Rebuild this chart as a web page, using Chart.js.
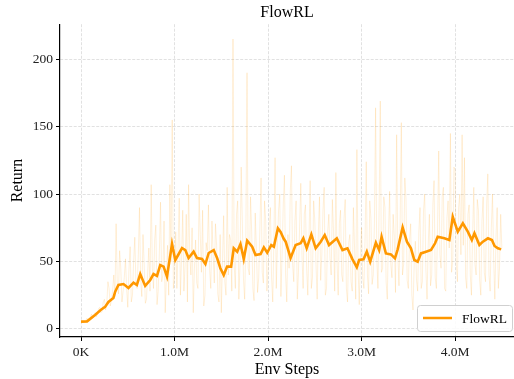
<!DOCTYPE html>
<html lang="en">
<head>
<meta charset="UTF-8">
<title>FlowRL</title>
<script src="https://cdn.jsdelivr.net/npm/chart.js"></script>
<style>
    html, body {
        margin: 0;
        padding: 0;
        background: #fff;
        overflow: hidden;
    }
    #chartContainer {
        width: 514px;
        height: 379px;
    }
</style>
</head>
<body>
<div id="chartContainer">
    <canvas id="chartCanvas" width="514" height="379"></canvas>
</div>
<script>
    // x values are in millions of env steps
    const xTicks = [0, 1, 2, 3, 4];
    const yTicks = [0, 50, 100, 150, 200];

    // raw episode returns, logged every 12.5K steps
    const rawInterval = 0.0125;
    const rawReturn = [
        5, 6, 5, 5, 6, 8, 7, 6, 9, 11, 8, 10, 12, 9, 11, 15, 16, 12, 13, 20,
        22, 14, 18, 35, 30, 17, 21, 28, 40, 24, 78, 33, 26, 58, 45, 20, 28, 38, 52, 30,
        16, 44, 61, 20, 25, 50, 68, 32, 30, 55, 90, 36, 24, 70, 48, 19, 22, 42, 60, 28,
        107, 45, 30, 66, 77, 18, 28, 56, 94, 35, 40, 80, 12, 38, 62, 25, 107, 50, 155, 30,
        38, 72, 30, 60, 97, 25, 52, 88, 28, 47, 85, 20, 107, 55, 40, 75, 12, 45, 66, 34,
        30, 100, 70, 42, 88, 17, 25, 64, 58, 92, 44, 30, 80, 55, 34, 78, 62, 26, 20, 70,
        12, 50, 84, 35, 25, 105, 40, 70, 66, 28, 215, 48, 30, 85, 95, 22, 48, 120, 78, 36,
        22, 68, 190, 45, 40, 98, 72, 30, 21, 86, 60, 27, 38, 74, 112, 42, 34, 95, 80, 28,
        45, 76, 90, 38, 20, 66, 127, 30, 62, 88, 100, 24, 55, 92, 114, 40, 20, 70, 45, 102,
        121, 48, 35, 80, 95, 22, 42, 76, 108, 55, 30, 85, 92, 45, 25, 66, 110, 30, 38, 95,
        80, 48, 22, 70, 98, 36, 55, 88, 105, 25, 30, 72, 85, 52, 40, 96, 72, 28, 116, 50,
        25, 78, 88, 40, 35, 82, 96, 30, 20, 64, 70, 35, 28, 90, 60, 22, 133, 45, 18, 55,
        75, 38, 30, 68, 124, 40, 26, 95, 82, 33, 40, 78, 164, 52, 30, 88, 169, 42, 45, 98,
        90, 35, 22, 70, 102, 48, 38, 85, 68, 27, 144, 55, 32, 80, 153, 40, 48, 112, 96, 36,
        30, 66, 78, 25, 14, 48, 65, 36, 28, 72, 90, 30, 35, 88, 100, 45, 22, 62, 85, 32,
        40, 92, 110, 38, 30, 75, 132, 55, 45, 98, 105, 30, 28, 82, 95, 60, 145, 42, 50, 120,
        118, 48, 35, 90, 100, 55, 144, 62, 127, 38, 30, 85, 92, 40, 25, 70, 105, 48, 40, 96,
        88, 36, 25, 80, 98, 42, 35, 92, 115, 40, 28, 75, 100, 52, 22, 68, 90, 30, 45, 85,
        60
    ];

    // smoothed curve
    const smoothSteps = [
        0, 0.064, 0.15, 0.21, 0.257, 0.293, 0.346, 0.365, 0.40, 0.454,
        0.507, 0.561, 0.597, 0.633, 0.686, 0.74, 0.775, 0.812, 0.847, 0.883,
        0.919, 0.973, 1.008, 1.04, 1.08, 1.115, 1.15, 1.204, 1.24, 1.294,
        1.33, 1.365, 1.419, 1.455, 1.49, 1.526, 1.562, 1.605, 1.633, 1.67,
        1.705, 1.74, 1.777, 1.83, 1.866, 1.92, 1.955, 1.991, 2.034, 2.062,
        2.105, 2.134, 2.166, 2.188, 2.241, 2.295, 2.348, 2.377, 2.413, 2.463,
        2.509, 2.563, 2.606, 2.652, 2.735, 2.796, 2.849, 2.903, 2.949, 2.974,
        3.021, 3.056, 3.092, 3.153, 3.188, 3.214, 3.26, 3.314, 3.357, 3.386,
        3.439, 3.485, 3.528, 3.564, 3.6, 3.635, 3.689, 3.743, 3.786, 3.814,
        3.885, 3.939, 3.975, 4.029, 4.083, 4.136, 4.179, 4.207, 4.26, 4.297,
        4.351, 4.394, 4.422, 4.458, 4.493
    ];
    const smoothReturn = [
        5.4, 5.6, 10.4, 14, 16.3, 20, 23, 27.6, 32.6, 33.3,
        30.4, 34.3, 32.6, 40.7, 31.9, 36.3, 40.7, 39.3, 47.4, 46.2,
        38.8, 63, 51, 55, 60, 58.5, 52.6, 57.3, 52.6, 51.9,
        48.1, 56.3, 58.5, 52.6, 45, 40, 46.2, 46.2, 59.8, 57.3,
        63, 51.9, 65.4, 61, 54.8, 55.5, 60.5, 56.5, 62.2, 61,
        74.6, 72, 67, 64.7, 52.6, 62.2, 63.5, 67.2, 59.8, 70.1,
        59.8, 64.7, 69.6, 62.2, 67.2, 58.5, 59.8, 51.6, 45.7, 51.1,
        51.6, 57.3, 49.9, 63.9, 58.5, 68.4, 56, 55.3, 52.3, 59,
        75.3, 64.7, 59.8, 51.1, 49.9, 56, 57.3, 58.5, 63.5, 68.4,
        67.2, 65.9, 83.2, 72.1, 78.3, 72.1, 65.9, 70.9, 62.2, 64.7,
        67.2, 65.9, 61.5, 59.8, 59
    ];

    const lineColor = '#ff9800';
    const rawColor = 'rgba(255, 152, 0, 0.15)';

    const rawPoints = rawReturn.map((v, i) => ({ x: i * rawInterval, y: v }));
    const smoothPoints = smoothSteps.map((s, i) => ({ x: s, y: smoothReturn[i] }));

    Chart.defaults.font.family = "'Liberation Serif', 'Times New Roman', serif";
    Chart.defaults.color = '#222';

    // boxed legend in the lower right corner of the plot
    const cornerLegend = {
        id: 'cornerLegend',
        afterDatasetsDraw(chart) {
            const { ctx, chartArea } = chart;
            const w = 95, h = 26;
            const x = chartArea.right - w - 2;
            const y = chartArea.bottom - h - 6;
            ctx.save();
            ctx.beginPath();
            ctx.roundRect(x + 0.5, y + 0.5, w, h, 3);
            ctx.fillStyle = 'rgba(255, 255, 255, 0.85)';
            ctx.fill();
            ctx.strokeStyle = '#d0d0d0';
            ctx.lineWidth = 1;
            ctx.stroke();
            ctx.beginPath();
            ctx.moveTo(x + 6, y + h / 2);
            ctx.lineTo(x + 35, y + h / 2);
            ctx.strokeStyle = lineColor;
            ctx.lineWidth = 2.5;
            ctx.stroke();
            ctx.fillStyle = '#000';
            ctx.font = "13.5px 'Liberation Serif', serif";
            ctx.textBaseline = 'middle';
            ctx.fillText('FlowRL', x + 45, y + h / 2 + 1);
            ctx.restore();
        }
    };

    const gridStyle = {
        color: '#d9d9d9',
        lineWidth: 0.8,
        tickLength: 4,
        tickColor: '#000',
        tickWidth: 1
    };

    new Chart(document.getElementById('chartCanvas'), {
        type: 'line',
        data: {
            datasets: [
                {
                    label: 'FlowRL',
                    data: smoothPoints,
                    borderColor: lineColor,
                    borderWidth: 2.6,
                    pointRadius: 0,
                    tension: 0,
                    fill: false
                },
                {
                    label: 'raw',
                    data: rawPoints,
                    borderColor: rawColor,
                    borderWidth: 1,
                    pointRadius: 0,
                    tension: 0,
                    fill: false
                }
            ]
        },
        options: {
            responsive: false,
            animation: false,
            devicePixelRatio: 1,
            layout: { padding: 0 },
            plugins: {
                legend: { display: false },
                tooltip: { enabled: false },
                title: {
                    display: true,
                    text: 'FlowRL',
                    fullSize: false,
                    color: '#000',
                    font: { size: 16, weight: 'normal' },
                    padding: { top: 3, bottom: 2 }
                }
            },
            scales: {
                x: {
                    type: 'linear',
                    min: -0.225,
                    max: 4.63,
                    afterBuildTicks: s => { s.ticks = xTicks.map(v => ({ value: v })); },
                    afterFit: s => { s.height = 42; },
                    ticks: {
                        autoSkip: false,
                        maxRotation: 0,
                        padding: 3,
                        font: { size: 13.5 },
                        callback: v => v === 0 ? '0K' : v.toFixed(1) + 'M'
                    },
                    grid: gridStyle,
                    border: { color: '#000', width: 1.2, dash: [3, 1.5] },
                    title: {
                        display: true,
                        text: 'Env Steps',
                        color: '#000',
                        font: { size: 16 },
                        padding: { top: 0, bottom: 0 }
                    }
                },
                y: {
                    min: -6,
                    max: 226,
                    afterBuildTicks: s => { s.ticks = yTicks.map(v => ({ value: v })); },
                    afterFit: s => { s.width = 60; },
                    ticks: {
                        padding: 3,
                        font: { size: 13.5 }
                    },
                    grid: gridStyle,
                    border: { color: '#000', width: 1.2, dash: [3, 1.5] },
                    title: {
                        display: true,
                        text: 'Return',
                        color: '#000',
                        font: { size: 16 },
                        padding: { top: 8, bottom: 0 }
                    }
                }
            }
        },
        plugins: [cornerLegend]
    });
</script>
</body>
</html>
